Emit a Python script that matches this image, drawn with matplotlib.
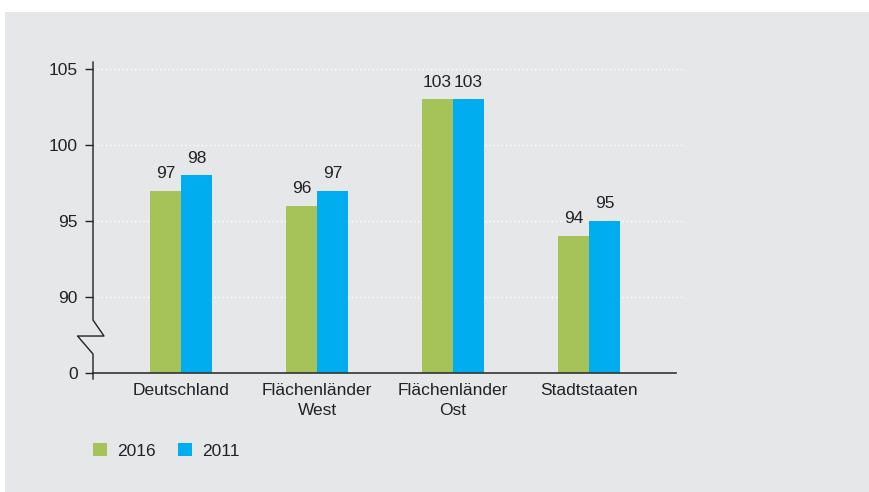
import matplotlib
matplotlib.use("Agg")
import matplotlib.pyplot as plt
import numpy as np

categories = ["Deutschland", "Flächenländer\nWest", "Flächenländer\nOst", "Stadtstaaten"]
v2016 = [97, 96, 103, 94]
v2011 = [98, 97, 103, 95]
yticks = [0, 90, 95, 100, 105]

green = "#a6c35a"
blue = "#00aeef"
bg = "#e6e7e9"
txt = "#222222"

plt.rcParams["font.family"] = ["Liberation Sans", "DejaVu Sans"]
plt.rcParams["font.size"] = 12.5


# broken axis: 0..90 squeezed into 85..90, above 90 linear
def fwd(y):
    y = np.asarray(y, dtype=float)
    return np.where(y < 90, 85 + y * 5 / 90, y)


def inv(u):
    u = np.asarray(u, dtype=float)
    return np.where(u < 90, (u - 85) * 90 / 5, u)


fig = plt.figure(figsize=(8.7, 4.92), dpi=100)
fig.patch.set_facecolor("white")
fig.patches.append(plt.Rectangle((5 / 870, 0), 1, 1 - 12 / 492, transform=fig.transFigure,
                                 facecolor=bg, edgecolor="none", zorder=-10))

ax = fig.add_axes([93 / 870, 1 - 379 / 492, 590 / 870, 317 / 492])
ax.set_facecolor("none")
ax.set_yscale("function", functions=(fwd, inv))

x = np.arange(len(categories))
w = 0.228
b1 = ax.bar(x - w / 2, v2016, w, color=green, label="2016", zorder=3)
b2 = ax.bar(x + w / 2, v2011, w, color=blue, label="2011", zorder=3)
for bars, vals in [(b1, v2016), (b2, v2011)]:
    for r, v in zip(bars, vals):
        ax.annotate(str(v), (r.get_x() + r.get_width() / 2, v), xytext=(0, 7),
                    textcoords="offset points", ha="center", va="bottom", color=txt)

ax.set_xlim(-0.647, 3.69)
ax.set_ylim(-7, 105.45)
ax.set_yticks(yticks)
ax.set_yticklabels([str(t) for t in yticks])
ax.set_xticks(x)
ax.set_xticklabels(categories, linespacing=1.4)
ax.tick_params(axis="x", length=0, pad=3, colors=txt)
ax.tick_params(axis="y", length=6, width=1, colors=txt, pad=5, direction="out")
ax.yaxis.set_minor_locator(matplotlib.ticker.NullLocator())

for t in yticks[1:]:
    ax.axhline(t, xmin=4 / 590, xmax=1, color="white", lw=1, ls=(0, (1, 2)), zorder=1)

for s in ["top", "right", "bottom", "left"]:
    ax.spines[s].set_visible(False)

# x axis line
ax.plot([0, 583 / 590], [0, 0], transform=ax.get_yaxis_transform(), color="#333333", lw=1.2,
        clip_on=False, zorder=4)
# y axis line with break
k = "#222222"
ax.plot([0, 0, 0.0186, -0.0262, 0, 0], [1, 0.186, 0.1356, 0.1356, 0.0789, 0],
        transform=ax.transAxes, color=k, lw=1, clip_on=False, zorder=5)

leg = fig.legend(handles=[b1, b2], labels=["2016", "2011"], loc="center left",
                 bbox_to_anchor=(93 / 870, 1 - 451 / 492), ncol=2, frameon=False,
                 handlelength=0.78, handleheight=0.78, handletextpad=0.6, columnspacing=1.3,
                 borderpad=0.0, borderaxespad=0.0)
for t in leg.get_texts():
    t.set_color(txt)

fig.savefig("out.png", dpi=100, facecolor=fig.get_facecolor())
